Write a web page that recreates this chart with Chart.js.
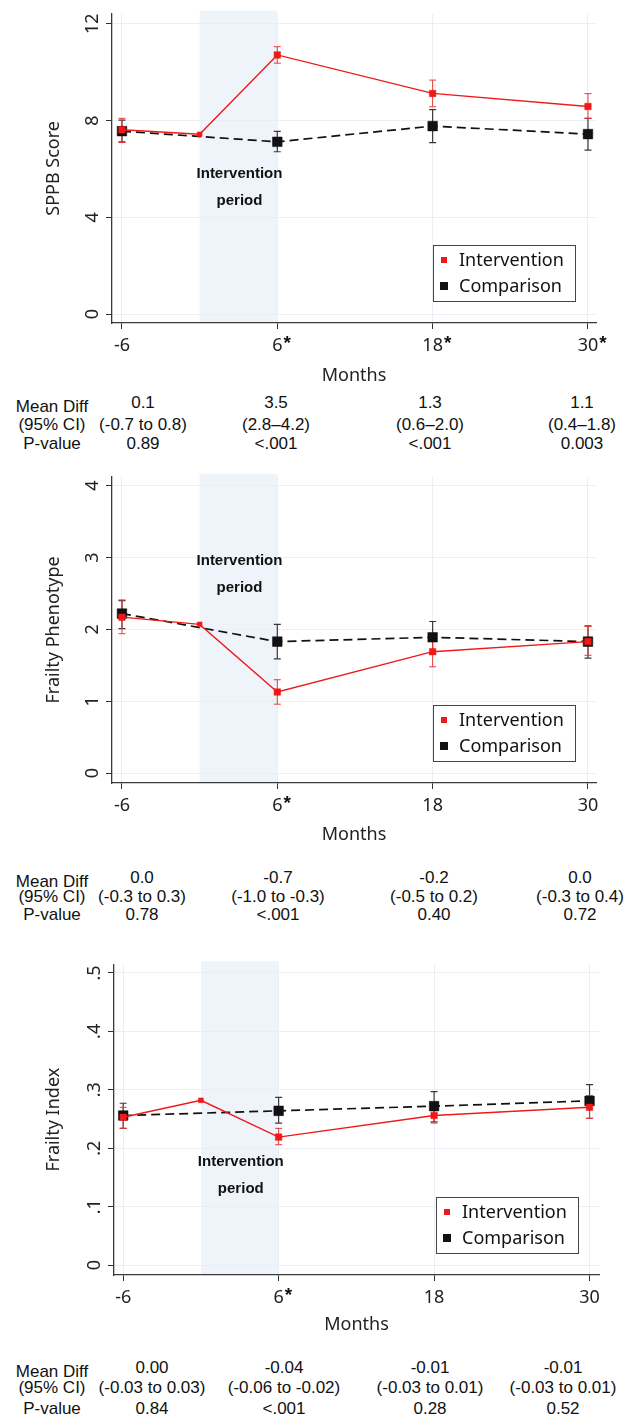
<!DOCTYPE html>
<html>
<head>
<meta charset="utf-8">
<script src="https://cdn.jsdelivr.net/npm/chart.js@4.4.1/dist/chart.umd.min.js"></script>
<style>
  body { margin: 0; background: #fff; }
  #page { position: relative; width: 626px; height: 1418px; overflow: hidden; background: #fff; }
  #page canvas { position: absolute; left: 0; }
  .stat { position: absolute; font: 17px "Liberation Sans", Arial, sans-serif; color: #111;
          white-space: nowrap; transform: translate(-50%, -50%); line-height: 1; }
</style>
</head>
<body>
<div id="page"></div>
<script>
// ---- data ----
const monthTicks = [-6, 6, 18, 30];
const intMonths = [-6, 0, 6, 18, 30];   // intervention has the extra point at 0
const cmpMonths = [-6, 6, 18, 30];
const bandStart = 0, bandEnd = 6;       // intervention period

// SPPB score
const sppbTicks = [0, 4, 8, 12];
const sppbTickLabels = ['0', '4', '8', '12'];
const sppbInt   = [7.62, 7.43, 10.71, 9.12, 8.58];
const sppbIntLo = [7.09, null, 10.37, 8.57, 8.09];
const sppbIntHi = [8.09, null, 11.05, 9.67, 9.11];
const sppbCmp   = [7.56, 7.12, 7.77, 7.44];
const sppbCmpLo = [7.12, 6.71, 7.09, 6.78];
const sppbCmpHi = [8.02, 7.55, 8.45, 8.09];
const sppbStars = [6, 18, 30];
const sppbDiff = ['0.1', '3.5', '1.3', '1.1'];
const sppbCI   = ['(-0.7 to 0.8)', '(2.8\u20134.2)', '(0.6\u20132.0)', '(0.4\u20131.8)'];
const sppbP    = ['0.89', '<.001', '<.001', '0.003'];

// Frailty phenotype
const phenTicks = [0, 1, 2, 3, 4];
const phenTickLabels = ['0', '1', '2', '3', '4'];
const phenInt   = [2.17, 2.07, 1.13, 1.69, 1.83];
const phenIntLo = [1.94, null, 0.96, 1.48, 1.64];
const phenIntHi = [2.41, null, 1.30, 1.89, 2.04];
const phenCmp   = [2.22, 1.83, 1.89, 1.83];
const phenCmpLo = [2.01, 1.59, 1.66, 1.60];
const phenCmpHi = [2.40, 2.07, 2.11, 2.05];
const phenStars = [6];
const phenDiff = ['0.0', '-0.7', '-0.2', '0.0'];
const phenCI   = ['(-0.3 to 0.3)', '(-1.0 to -0.3)', '(-0.5 to 0.2)', '(-0.3 to 0.4)'];
const phenP    = ['0.78', '<.001', '0.40', '0.72'];

// Frailty index
const idxTicks = [0, 0.1, 0.2, 0.3, 0.4, 0.5];
const idxTickLabels = ['0', '.1', '.2', '.3', '.4', '.5'];
const idxInt   = [0.253, 0.282, 0.219, 0.256, 0.270];
const idxIntLo = [0.234, null, 0.206, 0.243, 0.251];
const idxIntHi = [0.270, null, 0.234, 0.268, 0.290];
const idxCmp   = [0.256, 0.264, 0.272, 0.281];
const idxCmpLo = [0.234, 0.243, 0.245, 0.251];
const idxCmpHi = [0.277, 0.287, 0.297, 0.309];
const idxStars = [6];
const idxDiff = ['0.00', '-0.04', '-0.01', '-0.01'];
const idxCI   = ['(-0.03 to 0.03)', '(-0.06 to -0.02)', '(-0.03 to 0.01)', '(-0.03 to 0.01)'];
const idxP    = ['0.84', '<.001', '0.28', '0.52'];

const rowLabels = ['Mean Diff', '(95% CI)', 'P-value'];
const seriesNames = ['Intervention', 'Comparison'];

// ---- styling ----
const RED = '#f01818';
const BLACK = '#111';
const TXT = '#222';
const GRID = '#e9eff4';
const BAND = '#eef4fa';
const tickFont = { family: '"Noto Sans", "Open Sans", sans-serif', size: 18 };
const W = 626;
const page = document.getElementById('page');

function toPoints(xs, ys) {
  return xs.map((m, i) => ({ x: m, y: ys[i] }));
}

function makePanel(p) {
  const canvas = document.createElement('canvas');
  canvas.width = W;
  canvas.height = p.canvasHeight;
  canvas.style.top = p.canvasTop + 'px';
  canvas.style.width = W + 'px';
  canvas.style.height = p.canvasHeight + 'px';
  page.appendChild(canvas);

  const plotTop = p.plot.top - p.canvasTop;
  const plotBottom = p.plot.bottom - p.canvasTop;
  const xHeight = p.canvasHeight - plotBottom;
  const lh = tickFont.size * 1.2;

  const decor = {
    id: 'decor',
    beforeDraw(chart) {
      const { ctx, chartArea: a, scales: { x } } = chart;
      const x0 = x.getPixelForValue(bandStart), x1 = x.getPixelForValue(bandEnd);
      ctx.save();
      ctx.fillStyle = BAND;
      ctx.fillRect(x0, a.top - 3, x1 - x0, a.bottom - a.top + 3);
      ctx.restore();
    },
    beforeDatasetsDraw(chart) {
      const { ctx, scales: { x, y } } = chart;
      // "Intervention period" label
      const cx = (x.getPixelForValue(bandStart) + x.getPixelForValue(bandEnd)) / 2 + 1;
      const py = y.getPixelForValue(p.periodY);
      ctx.save();
      ctx.font = 'bold 15px "Liberation Sans", Arial, sans-serif';
      ctx.fillStyle = '#111';
      ctx.textAlign = 'center';
      ctx.textBaseline = 'middle';
      ctx.fillText('Intervention', cx, py);
      ctx.fillText('period', cx, py + 27);
      // 95% CI bars, comparison first so intervention sits on top
      chart.data.datasets.slice().reverse().forEach(ds => {
        ctx.strokeStyle = ds.ciColor;
        ctx.lineWidth = ds.ciWidth;
        ds.data.forEach((pt, i) => {
          const lo = ds.ciLow[i], hi = ds.ciHigh[i];
          if (lo == null) return;
          const px = x.getPixelForValue(pt.x);
          const yl = y.getPixelForValue(lo), yh = y.getPixelForValue(hi);
          ctx.beginPath();
          ctx.moveTo(px, yl); ctx.lineTo(px, yh);
          ctx.moveTo(px - 3.5, yl); ctx.lineTo(px + 3.5, yl);
          ctx.moveTo(px - 3.5, yh); ctx.lineTo(px + 3.5, yh);
          ctx.stroke();
        });
      });
      ctx.restore();
    },
    afterDraw(chart) {
      const { ctx, chartArea: a, scales: { x } } = chart;
      ctx.save();
      // significance stars next to the month labels
      ctx.font = tickFont.size + 'px ' + tickFont.family;
      const labelMid = x.top + 6 + 6 + lh / 2;
      p.stars.forEach(v => {
        const w = ctx.measureText(String(v)).width;
        const px = x.getPixelForValue(v);
        ctx.save();
        ctx.font = 'bold 19px "Liberation Sans", Arial, sans-serif';
        ctx.fillStyle = '#111';
        ctx.textAlign = 'left';
        ctx.textBaseline = 'alphabetic';
        ctx.fillText('*', px + w / 2 + 1, labelMid + 3);
        ctx.restore();
      });
      // legend box
      const bw = 142, bh = 56;
      const bx = a.right - 21 - bw, by = a.bottom - 22 - bh;
      ctx.fillStyle = '#fff';
      ctx.fillRect(bx, by, bw, bh);
      ctx.strokeStyle = '#444';
      ctx.lineWidth = 1;
      ctx.strokeRect(bx + 0.5, by + 0.5, bw, bh);
      chart.data.datasets.forEach((ds, i) => {
        const my = by + 15 + i * 26;
        const s = i === 0 ? 6 : 8;
        ctx.fillStyle = ds.borderColor;
        ctx.fillRect(bx + 11 - s / 2, my - s / 2, s, s);
        ctx.fillStyle = '#111';
        ctx.font = '18px ' + tickFont.family;
        ctx.textAlign = 'left';
        ctx.textBaseline = 'middle';
        ctx.fillText(ds.label, bx + 26, my + 1);
      });
      ctx.restore();
    }
  };

  new Chart(canvas.getContext('2d'), {
    type: 'line',
    data: {
      datasets: [{
        label: seriesNames[0],
        data: toPoints(intMonths, p.intY),
        ciLow: p.intLo, ciHigh: p.intHi, ciColor: '#e83a3a', ciWidth: 1,
        borderColor: RED,
        backgroundColor: RED,
        borderWidth: 1.4,
        pointStyle: 'rect',
        pointRadius: [4.6, 3.4, 4.6, 4.6, 4.6],
        pointBorderWidth: 0.5,
        tension: 0
      }, {
        label: seriesNames[1],
        data: toPoints(cmpMonths, p.cmpY),
        ciLow: p.cmpLo, ciHigh: p.cmpHi, ciColor: '#3a3a3a', ciWidth: 1.2,
        borderColor: BLACK,
        backgroundColor: BLACK,
        borderWidth: 1.7,
        borderDash: [9, 5],
        pointStyle: 'rect',
        pointRadius: 6.8,
        pointBorderWidth: 0.5,
        tension: 0
      }]
    },
    options: {
      responsive: false,
      devicePixelRatio: 1,
      animation: false,
      events: [],
      layout: { padding: { left: 0, right: W - p.plot.right, top: plotTop, bottom: 0 } },
      plugins: { legend: { display: false }, tooltip: { enabled: false } },
      scales: {
        x: {
          type: 'linear',
          position: 'bottom',
          min: p.xMin, max: p.xMax,
          bounds: 'data',
          afterBuildTicks: s => { s.ticks = monthTicks.map(v => ({ value: v })); },
          afterFit: s => { s.height = xHeight; },
          grid: { color: GRID, lineWidth: 1, tickColor: '#333', tickLength: 6 },
          border: { color: '#3a3a3a', width: 1.3 },
          ticks: { font: tickFont, color: TXT, padding: 6, maxRotation: 0, autoSkip: false },
          title: {
            display: true, text: 'Months', font: tickFont, color: TXT,
            padding: { top: 0, bottom: xHeight - p.monthsGap - lh / 2 }
          }
        },
        y: {
          type: 'linear',
          min: p.yMin, max: p.yMax,
          bounds: 'data',
          afterBuildTicks: s => { s.ticks = p.yTicks.map(v => ({ value: v })); },
          afterFit: s => { s.width = p.plot.left; },
          grid: { color: GRID, lineWidth: 1, tickColor: '#333', tickLength: 6 },
          border: { color: '#3a3a3a', width: 1.3 },
          ticks: {
            font: tickFont, color: TXT, padding: p.yLabelPad,
            minRotation: 90, maxRotation: 90, crossAlign: 'center', autoSkip: false,
            callback: (v, i) => p.yTickLabels[i]
          },
          title: {
            display: true, text: p.yTitle, font: tickFont, color: TXT,
            padding: { top: 54 - lh / 2, bottom: 0 }
          }
        }
      }
    },
    plugins: [decor]
  });

  // statistics table under the panel
  const cells = [p.diff, p.ci, p.pval];
  rowLabels.forEach((lab, r) => {
    const d = document.createElement('div');
    d.className = 'stat';
    d.textContent = lab;
    d.style.left = '52px';
    d.style.top = (p.rows[r] + (r === 0 ? 4 : 0)) + 'px';
    page.appendChild(d);
    cells[r].forEach((t, c) => {
      const e = document.createElement('div');
      e.className = 'stat';
      e.textContent = t;
      e.style.left = p.cols[c] + 'px';
      e.style.top = p.rows[r] + 'px';
      page.appendChild(e);
    });
  });
}

makePanel({
  canvasTop: 0, canvasHeight: 392,
  plot: { left: 112, right: 596, top: 10, bottom: 323 },
  xMin: -6.77, xMax: 30.62, yMin: -0.367, yMax: 12.41,
  yTicks: sppbTicks, yTickLabels: sppbTickLabels, yTitle: 'SPPB Score', yLabelPad: 3,
  intY: sppbInt, intLo: sppbIntLo, intHi: sppbIntHi,
  cmpY: sppbCmp, cmpLo: sppbCmpLo, cmpHi: sppbCmpHi,
  stars: sppbStars, periodY: 5.80, monthsGap: 53,
  diff: sppbDiff, ci: sppbCI, pval: sppbP,
  rows: [402, 424, 443], cols: [143, 276, 430, 582]
});

makePanel({
  canvasTop: 458, canvasHeight: 392,
  plot: { left: 112, right: 596, top: 470, bottom: 783 },
  xMin: -6.77, xMax: 30.62, yMin: -0.136, yMax: 4.122,
  yTicks: phenTicks, yTickLabels: phenTickLabels, yTitle: 'Frailty Phenotype', yLabelPad: 8,
  intY: phenInt, intLo: phenIntLo, intHi: phenIntHi,
  cmpY: phenCmp, cmpLo: phenCmpLo, cmpHi: phenCmpHi,
  stars: phenStars, periodY: 2.957, monthsGap: 52,
  diff: phenDiff, ci: phenCI, pval: phenP,
  rows: [877, 896, 914], cols: [142, 278, 434, 580]
});

makePanel({
  canvasTop: 948, canvasHeight: 392,
  plot: { left: 114, right: 599, top: 962, bottom: 1275 },
  xMin: -6.71, xMax: 30.73, yMin: -0.017, yMax: 0.5148,
  yTicks: idxTicks, yTickLabels: idxTickLabels, yTitle: 'Frailty Index', yLabelPad: 5.5,
  intY: idxInt, intLo: idxIntLo, intHi: idxIntHi,
  cmpY: idxCmp, cmpLo: idxCmpLo, cmpHi: idxCmpHi,
  stars: idxStars, periodY: 0.177, monthsGap: 50,
  diff: idxDiff, ci: idxCI, pval: idxP,
  rows: [1367, 1387, 1408], cols: [152, 284, 430, 563]
});
</script>
</body>
</html>
